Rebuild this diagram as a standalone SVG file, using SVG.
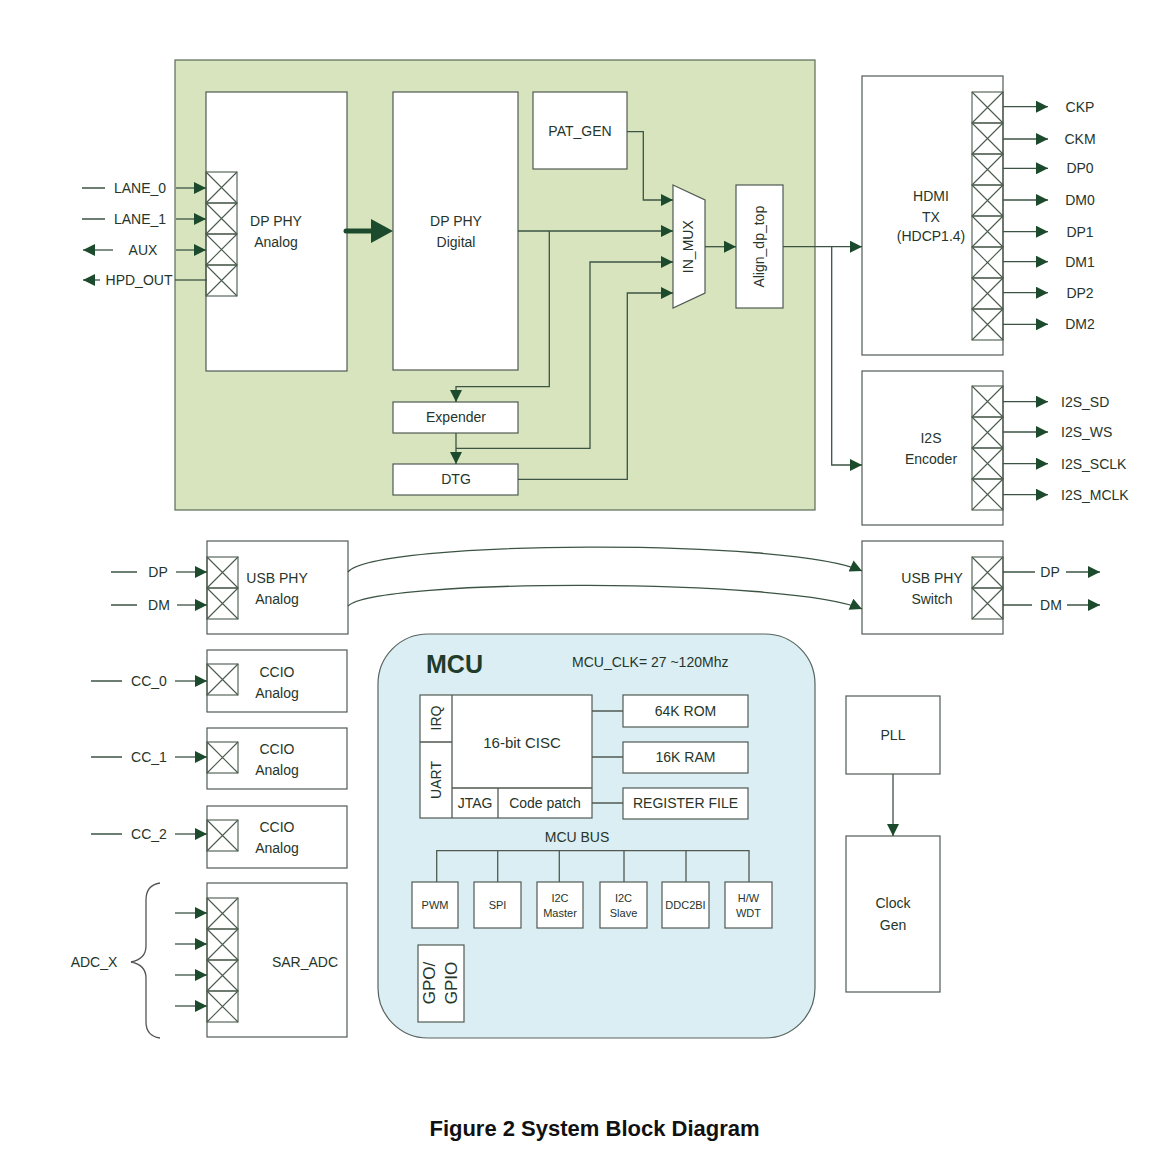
<svg xmlns="http://www.w3.org/2000/svg" width="1171" height="1156" viewBox="0 0 1171 1156">
<defs>
<style>
text{font-family:"Liberation Sans",Arial,sans-serif;font-size:14px;fill:#26352a}
.c{text-anchor:middle}
.box{fill:#fff;stroke:#505a52;stroke-width:1.2}
.ln{fill:none;stroke:#3c5444;stroke-width:1.3}
.s11{font-size:11px}
.pad{fill:none;stroke:#4a5a4c;stroke-width:1.1}
</style>
<marker id="ah" viewBox="0 0 10 10" refX="10" refY="5" markerWidth="16" markerHeight="12" markerUnits="userSpaceOnUse" orient="auto"><path d="M0,0L10,5L0,10z" fill="#1c4a2c"/></marker>
<symbol id="pad" viewBox="0 0 31 31" overflow="visible"><rect class="pad" x="0" y="0" width="31" height="31"/><path class="pad" d="M0,0L31,31M31,0L0,31"/></symbol>
</defs>
<rect width="1171" height="1156" fill="#fff"/>

<g id="dp_block"><rect x="175" y="60" width="640" height="450" fill="#d7e4bd" stroke="#5b6b57" stroke-width="1.2"/></g>

<g id="dp_phy_analog">
<rect class="box" x="206" y="92" width="141" height="279"/>
<use href="#pad" x="206" y="172" width="31" height="31"/>
<use href="#pad" x="206" y="203" width="31" height="31"/>
<use href="#pad" x="206" y="234" width="31" height="31"/>
<use href="#pad" x="206" y="265" width="31" height="31"/>
<text class="c" x="276" y="226">DP PHY</text><text class="c" x="276" y="247">Analog</text>
</g>
<g id="dp_phy_digital"><rect class="box" x="393" y="92" width="125" height="278"/>
<text class="c" x="456" y="226">DP PHY</text><text class="c" x="456" y="247">Digital</text></g>
<g id="pat_gen"><rect class="box" x="533" y="92" width="94" height="77"/><text class="c" x="580" y="136">PAT_GEN</text></g>
<g id="in_mux"><polygon class="box" points="673,185 705,200 705,293 673,308"/>
<text class="c" transform="translate(688,246.7) rotate(-90)" x="0" y="5">IN_MUX</text></g>
<g id="align_dp_top"><rect class="box" x="736" y="185" width="47" height="123"/>
<text class="c" transform="translate(759,246.7) rotate(-90)" x="0" y="5">Align_dp_top</text></g>
<g id="expender"><rect class="box" x="393" y="402" width="125" height="31"/><text class="c" x="456" y="422">Expender</text></g>
<g id="dtg"><rect class="box" x="393" y="464" width="125" height="31"/><text class="c" x="456" y="484">DTG</text></g>

<g id="hdmi_tx"><rect class="box" x="862" y="76" width="141" height="279"/>
<use href="#pad" x="972" y="92" width="31" height="31"/>
<use href="#pad" x="972" y="123" width="31" height="31"/>
<use href="#pad" x="972" y="154" width="31" height="31"/>
<use href="#pad" x="972" y="185" width="31" height="31"/>
<use href="#pad" x="972" y="216" width="31" height="31"/>
<use href="#pad" x="972" y="247" width="31" height="31"/>
<use href="#pad" x="972" y="278" width="31" height="31"/>
<use href="#pad" x="972" y="309" width="31" height="31"/>
<text class="c" x="931" y="201">HDMI</text><text class="c" x="931" y="222">TX</text><text class="c" x="931" y="241">(HDCP1.4)</text></g>

<g id="i2s_encoder"><rect class="box" x="862" y="371" width="141" height="154"/>
<use href="#pad" x="972" y="386" width="31" height="31"/>
<use href="#pad" x="972" y="417" width="31" height="31"/>
<use href="#pad" x="972" y="448" width="31" height="31"/>
<use href="#pad" x="972" y="479" width="31" height="31"/>
<text class="c" x="931" y="443">I2S</text><text class="c" x="931" y="464">Encoder</text></g>

<g id="usb_phy_analog"><rect class="box" x="207" y="541" width="141" height="93"/>
<use href="#pad" x="207" y="557" width="31" height="31"/>
<use href="#pad" x="207" y="588" width="31" height="31"/>
<text class="c" x="277" y="583">USB PHY</text><text class="c" x="277" y="604">Analog</text></g>

<g id="usb_phy_switch"><rect class="box" x="862" y="541" width="141" height="93"/>
<use href="#pad" x="972" y="557" width="31" height="31"/>
<use href="#pad" x="972" y="588" width="31" height="31"/>
<text class="c" x="932" y="583">USB PHY</text><text class="c" x="932" y="604">Switch</text></g>

<g id="ccio_0"><rect class="box" x="207" y="650" width="140" height="62"/>
<use href="#pad" x="207" y="664" width="31" height="31"/>
<text class="c" x="277" y="677">CCIO</text><text class="c" x="277" y="698">Analog</text></g>
<g id="ccio_1"><rect class="box" x="207" y="728" width="140" height="61"/>
<use href="#pad" x="207" y="742" width="31" height="31"/>
<text class="c" x="277" y="754">CCIO</text><text class="c" x="277" y="775">Analog</text></g>
<g id="ccio_2"><rect class="box" x="207" y="806" width="140" height="62"/>
<use href="#pad" x="207" y="820" width="31" height="31"/>
<text class="c" x="277" y="832">CCIO</text><text class="c" x="277" y="853">Analog</text></g>

<g id="sar_adc"><rect class="box" x="207" y="883" width="140" height="154"/>
<use href="#pad" x="207" y="898" width="31" height="31"/>
<use href="#pad" x="207" y="929" width="31" height="31"/>
<use href="#pad" x="207" y="960" width="31" height="31"/>
<use href="#pad" x="207" y="991" width="31" height="31"/>
<text class="c" x="305" y="967">SAR_ADC</text></g>

<g id="mcu">
<rect x="378" y="634" width="437" height="404" rx="50" ry="50" fill="#dbeef3" stroke="#56645f" stroke-width="1.2"/>
<text x="426" y="673" style="font-size:25px;font-weight:bold;fill:#1f3d2a">MCU</text>
<text x="572" y="667">MCU_CLK= 27 ~120Mhz</text>
<g id="cpu">
<rect class="box" x="420" y="695" width="172" height="123"/>
<path class="ln" d="M452,695V818M420,742H452M452,788H592M498,788V818" style="stroke:#505a52"/>
<text class="c" x="522" y="748" style="font-size:15px">16-bit CISC</text>
<text class="c" transform="translate(436,718) rotate(-90)" x="0" y="5">IRQ</text>
<text class="c" transform="translate(436,780) rotate(-90)" x="0" y="5">UART</text>
<text class="c" x="475" y="808">JTAG</text>
<text class="c" x="545" y="808">Code patch</text>
</g>
<g id="rom"><rect class="box" x="623" y="695" width="125" height="32"/><text class="c" x="685.5" y="716">64K ROM</text></g>
<g id="ram"><rect class="box" x="623" y="742" width="125" height="31"/><text class="c" x="685.5" y="762">16K RAM</text></g>
<g id="regfile"><rect class="box" x="623" y="788" width="125" height="31"/><text class="c" x="685.5" y="808">REGISTER FILE</text></g>
<text class="c" x="577" y="842">MCU BUS</text>
<g id="pwm"><rect class="box" x="412" y="882" width="46" height="46"/><text class="c s11" x="435" y="909">PWM</text></g>
<g id="spi"><rect class="box" x="474" y="882" width="47" height="46"/><text class="c s11" x="497.5" y="909">SPI</text></g>
<g id="i2c_master"><rect class="box" x="537" y="882" width="46" height="46"/><text class="c s11" x="560" y="902">I2C</text><text class="c s11" x="560" y="917">Master</text></g>
<g id="i2c_slave"><rect class="box" x="600" y="882" width="47" height="46"/><text class="c s11" x="623.5" y="902">I2C</text><text class="c s11" x="623.5" y="917">Slave</text></g>
<g id="ddc2bi"><rect class="box" x="662" y="882" width="47" height="46"/><text class="c s11" x="685.5" y="909">DDC2BI</text></g>
<g id="hw_wdt"><rect class="box" x="725" y="882" width="47" height="46"/><text class="c s11" x="748.5" y="902">H/W</text><text class="c s11" x="748.5" y="917">WDT</text></g>
<g id="gpio"><rect class="box" x="418" y="945" width="46" height="77"/>
<text class="c" transform="translate(441,983) rotate(-90)" style="font-size:17px"><tspan x="0" y="-6">GPO/</tspan><tspan x="0" y="16">GPIO</tspan></text></g>
</g>

<g id="pll"><rect class="box" x="846" y="696" width="94" height="78"/><text class="c" x="893" y="740">PLL</text></g>
<g id="clock_gen"><rect class="box" x="846" y="836" width="94" height="156"/><text class="c" x="893" y="908">Clock</text><text class="c" x="893" y="930">Gen</text></g>

<g id="connectors">
<path class="ln" d="M82,188H105M82,219H105"/>
<text class="c" x="140" y="193">LANE_0</text>
<text class="c" x="140" y="224">LANE_1</text>
<path class="ln" d="M176,188H206" marker-end="url(#ah)"/>
<path class="ln" d="M176,219H206" marker-end="url(#ah)"/>
<path class="ln" d="M113,250H83" marker-end="url(#ah)"/>
<text class="c" x="143" y="255">AUX</text>
<path class="ln" d="M176,250H206" marker-end="url(#ah)"/>
<path class="ln" d="M100,280H83" marker-end="url(#ah)"/>
<text class="c" x="139" y="285">HPD_OUT</text>
<path class="ln" d="M175,280H207"/>
<path d="M346,231H376" stroke="#1c4a2c" stroke-width="5" stroke-linecap="round" fill="none"/>
<polygon points="371,219 393,231 371,243" fill="#1c4a2c"/>
<path class="ln" d="M627,131.7H643.3V200H673" marker-end="url(#ah)"/>
<path class="ln" d="M518,231H673" marker-end="url(#ah)"/>
<path class="ln" d="M549.3,231V386.7H456V402" marker-end="url(#ah)"/>
<path class="ln" d="M456,433V464" marker-end="url(#ah)"/>
<path class="ln" d="M456,448.3H590V262H673" marker-end="url(#ah)"/>
<path class="ln" d="M518,479.3H627.3V293H673" marker-end="url(#ah)"/>
<path class="ln" d="M705,246.7H736" marker-end="url(#ah)"/>
<path class="ln" d="M783,246.7H862" marker-end="url(#ah)"/>
<path class="ln" d="M831.7,246.7V465H862" marker-end="url(#ah)"/>
<path class="ln" d="M1003,106.7H1048" marker-end="url(#ah)"/>
<path class="ln" d="M1003,139H1048" marker-end="url(#ah)"/>
<path class="ln" d="M1003,168.3H1048" marker-end="url(#ah)"/>
<path class="ln" d="M1003,200H1048" marker-end="url(#ah)"/>
<path class="ln" d="M1003,231.7H1048" marker-end="url(#ah)"/>
<path class="ln" d="M1003,261.7H1048" marker-end="url(#ah)"/>
<path class="ln" d="M1003,292.7H1048" marker-end="url(#ah)"/>
<path class="ln" d="M1003,324.3H1048" marker-end="url(#ah)"/>
<text class="c" x="1080" y="112">CKP</text>
<text class="c" x="1080" y="144">CKM</text>
<text class="c" x="1080" y="173">DP0</text>
<text class="c" x="1080" y="205">DM0</text>
<text class="c" x="1080" y="237">DP1</text>
<text class="c" x="1080" y="267">DM1</text>
<text class="c" x="1080" y="298">DP2</text>
<text class="c" x="1080" y="329">DM2</text>
<path class="ln" d="M1003,401.7H1048" marker-end="url(#ah)"/>
<path class="ln" d="M1003,432H1048" marker-end="url(#ah)"/>
<path class="ln" d="M1003,463.7H1048" marker-end="url(#ah)"/>
<path class="ln" d="M1003,494.7H1048" marker-end="url(#ah)"/>
<text x="1061" y="407">I2S_SD</text>
<text x="1061" y="437">I2S_WS</text>
<text x="1061" y="469">I2S_SCLK</text>
<text x="1061" y="500">I2S_MCLK</text>
<path class="ln" d="M111,572H137M111,605H137"/>
<text class="c" x="158" y="577">DP</text>
<text class="c" x="159" y="610">DM</text>
<path class="ln" d="M176,572H207" marker-end="url(#ah)"/>
<path class="ln" d="M177,605H207" marker-end="url(#ah)"/>
<path class="ln" d="M348,572C375,540 790,538 862,571" marker-end="url(#ah)"/>
<path class="ln" d="M348,606C375,578 790,578 862,609" marker-end="url(#ah)"/>
<path class="ln" d="M1003,572H1035M1003,605H1032"/>
<text class="c" x="1050" y="577">DP</text>
<text class="c" x="1051" y="610">DM</text>
<path class="ln" d="M1066,572H1100" marker-end="url(#ah)"/>
<path class="ln" d="M1067,605H1100" marker-end="url(#ah)"/>
<path class="ln" d="M91,681H122M91,757H122M91,834H122"/>
<text class="c" x="149" y="686">CC_0</text>
<text class="c" x="149" y="762">CC_1</text>
<text class="c" x="149" y="839">CC_2</text>
<path class="ln" d="M175,681H207" marker-end="url(#ah)"/>
<path class="ln" d="M175,757H207" marker-end="url(#ah)"/>
<path class="ln" d="M175,834H207" marker-end="url(#ah)"/>
<path class="ln" d="M175,913H207" marker-end="url(#ah)"/>
<path class="ln" d="M175,944H207" marker-end="url(#ah)"/>
<path class="ln" d="M175,975H207" marker-end="url(#ah)"/>
<path class="ln" d="M175,1006H207" marker-end="url(#ah)"/>
<path class="ln" d="M160,883Q146,885 146,900V946Q146,959 131,962Q146,965 146,978V1022Q146,1036 160,1038" style="stroke:#555"/>
<text class="c" x="94" y="967">ADC_X</text>
<path class="ln" d="M592,711H623M592,757H623M592,803H623" style="stroke:#505a52"/>
<path class="ln" d="M436.7,882V850.7H749V882M497.7,850.7V882M559.3,850.7V882M624,850.7V882M686,850.7V882" style="stroke:#505a52"/>
<path class="ln" d="M893,774V836" marker-end="url(#ah)"/>
</g>

<text class="c" x="594.5" y="1136" style="font-size:22px;font-weight:bold;fill:#111">Figure 2 System Block Diagram</text>
</svg>
